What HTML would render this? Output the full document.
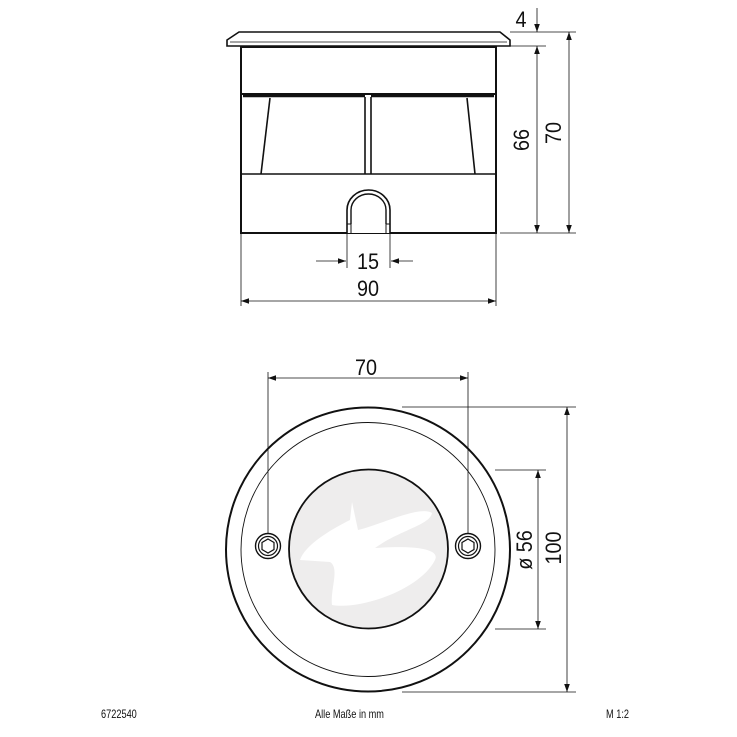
<!DOCTYPE html>
<html><head><meta charset="utf-8"><style>
html,body{margin:0;padding:0;background:#fff;}
svg{display:block;}
text{font-family:"Liberation Sans",sans-serif;fill:#111;}
</style></head><body>
<svg width="737" height="737" viewBox="0 0 737 737" xmlns="http://www.w3.org/2000/svg">
<defs>
<marker id="a" viewBox="0 0 10 10" refX="10" refY="5" markerWidth="8" markerHeight="8" orient="auto-start-reverse" markerUnits="userSpaceOnUse"><path d="M0,1.5 L10,5 L0,8.5 Z" fill="#111"/></marker>
</defs>
<g stroke="#111" fill="none">
<path d="M239,32 L500,32 L510,40 L510,46 L227,46 L227,40 Z" stroke-width="1.6" fill="#fff"/>
<line x1="230" y1="42" x2="507" y2="42" stroke-width="0.8"/>
<rect x="241" y="47" width="255" height="186" stroke-width="2"/>
<line x1="241" y1="94" x2="496" y2="94" stroke-width="2"/>
<path d="M243,96 L365,96 M371,96 L494,96" stroke-width="2.5"/>
<line x1="241" y1="174" x2="496" y2="174" stroke-width="1.6"/>
<line x1="365" y1="97" x2="365" y2="174" stroke-width="1.6"/>
<line x1="371" y1="97" x2="371" y2="174" stroke-width="1.6"/>
<line x1="270" y1="98" x2="261" y2="174" stroke-width="1.6"/>
<line x1="467" y1="98" x2="475" y2="174" stroke-width="1.6"/>
<path d="M347,233 L347,210 A21.5,20 0 0 1 390,210 L390,233" stroke-width="1.6" fill="#fff"/>
<path d="M351,224 L351,210 A17.5,16 0 0 1 386,210 L386,224" stroke-width="1.4"/>
<path d="M347,224 L351,224 M386,224 L390,224" stroke-width="1"/>
<line x1="351" y1="224" x2="351" y2="233" stroke-width="1"/>
<line x1="386" y1="224" x2="386" y2="233" stroke-width="1"/>
<g stroke-width="0.8">
<line x1="510" y1="32" x2="576" y2="32"/>
<line x1="510" y1="46" x2="546" y2="46"/>
<line x1="500" y1="233" x2="576" y2="233"/>
<line x1="537" y1="8" x2="537" y2="32" marker-end="url(#a)"/>
<line x1="537" y1="46" x2="537" y2="233" marker-start="url(#a)" marker-end="url(#a)"/>
<line x1="569" y1="32" x2="569" y2="233" marker-start="url(#a)" marker-end="url(#a)"/>
<line x1="347" y1="233" x2="347" y2="268"/>
<line x1="390" y1="233" x2="390" y2="268"/>
<line x1="316" y1="261" x2="346" y2="261" marker-end="url(#a)"/>
<line x1="413" y1="261" x2="391" y2="261" marker-end="url(#a)"/>
<line x1="241" y1="233" x2="241" y2="306"/>
<line x1="496" y1="233" x2="496" y2="306"/>
<line x1="241" y1="301" x2="496" y2="301" marker-start="url(#a)" marker-end="url(#a)"/>
</g>
<circle cx="368" cy="549.5" r="142" stroke-width="2"/>
<circle cx="368" cy="549.5" r="127" stroke-width="0.9"/>
<circle cx="368.5" cy="549" r="79.5" stroke-width="1.8" fill="#eeeded"/>
<path d="M352,502 L350,520 C330,530 305,545 300,560 L330,562 C340,568 330,590 332,605 C360,610 420,590 435,560 C440,550 420,545 375,548 C400,530 430,525 432,513 C420,505 380,525 358,530 Z" fill="#fff" stroke="none"/>
<circle cx="268" cy="546" r="12.5" stroke-width="1.4" fill="#fff"/>
<circle cx="268" cy="546" r="9.5" stroke-width="1.2"/>
<polygon points="268,539 274,542.5 274,549.5 268,553 262,549.5 262,542.5" stroke-width="1.2"/>
<circle cx="468" cy="546" r="12.5" stroke-width="1.4" fill="#fff"/>
<circle cx="468" cy="546" r="9.5" stroke-width="1.2"/>
<polygon points="468,539 474,542.5 474,549.5 468,553 462,549.5 462,542.5" stroke-width="1.2"/>
<g stroke-width="0.8">
<line x1="268" y1="372" x2="268" y2="533"/>
<line x1="468" y1="372" x2="468" y2="533"/>
<line x1="268" y1="378" x2="468" y2="378" marker-start="url(#a)" marker-end="url(#a)"/>
<line x1="402" y1="407" x2="576" y2="407"/>
<line x1="402" y1="692" x2="576" y2="692"/>
<line x1="567" y1="407" x2="567" y2="692" marker-start="url(#a)" marker-end="url(#a)"/>
<line x1="495" y1="470" x2="546" y2="470"/>
<line x1="495" y1="629" x2="546" y2="629"/>
<line x1="538" y1="470" x2="538" y2="629" marker-start="url(#a)" marker-end="url(#a)"/>
</g>
</g>
<g font-size="22">
<text transform="translate(521,27) scale(0.9,1)" text-anchor="middle">4</text>
<text transform="translate(368,269) scale(0.9,1)" text-anchor="middle">15</text>
<text transform="translate(368,296) scale(0.9,1)" text-anchor="middle">90</text>
<text transform="translate(366,375) scale(0.9,1)" text-anchor="middle">70</text>
<text transform="translate(529,140) rotate(-90) scale(0.9,1)" text-anchor="middle">66</text>
<text transform="translate(561,133) rotate(-90) scale(0.9,1)" text-anchor="middle">70</text>
<text transform="translate(532,550) rotate(-90) scale(0.9,1)" text-anchor="middle">ø 56</text>
<text transform="translate(561,548) rotate(-90) scale(0.9,1)" text-anchor="middle">100</text>
</g>
<g font-size="11.5">
<text transform="translate(101,718) scale(0.8,1)">6722540</text>
<text transform="translate(315,718) scale(0.8,1)">Alle Maße in mm</text>
<text transform="translate(606,718) scale(0.8,1)">M 1:2</text>
</g>
</svg>
</body></html>
